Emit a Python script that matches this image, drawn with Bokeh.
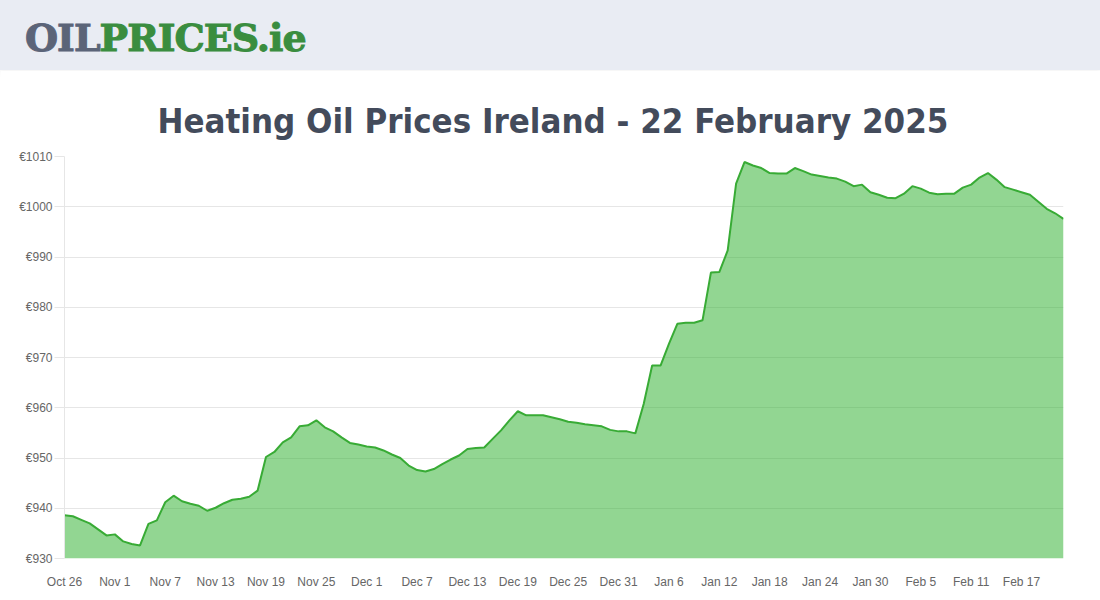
import pandas as pd
from bokeh.plotting import figure
from bokeh.layouts import column
from bokeh.models import Div, Range1d, FixedTicker
from bokeh.embed import file_html
from bokeh.resources import INLINE

# ---- data ----
start_date = "2024-10-26"
prices = [
    938.6, 938.4, 937.7, 937.0, 935.8, 934.6, 934.8, 933.4, 932.9, 932.6,
    936.9, 937.6, 941.2, 942.5, 941.4, 940.9, 940.5, 939.5, 940.1, 941.0,
    941.7, 941.9, 942.3, 943.5, 950.2, 951.2, 953.1, 954.1, 956.3, 956.5,
    957.5, 956.1, 955.3, 954.1, 953.0, 952.7, 952.3, 952.1, 951.5, 950.7,
    950.0, 948.5, 947.6, 947.3, 947.8, 948.8, 949.7, 950.5, 951.8, 952.0,
    952.1, 953.8, 955.5, 957.5, 959.3, 958.5, 958.5, 958.5, 958.1, 957.7,
    957.2, 957.0, 956.7, 956.5, 956.3, 955.6, 955.3, 955.3, 954.9, 960.8,
    968.4, 968.4, 972.7, 976.7, 976.9, 976.9, 977.4, 986.9, 987.0, 991.3,
    1004.6, 1008.9, 1008.2, 1007.7, 1006.7, 1006.6, 1006.6, 1007.7, 1007.1, 1006.4,
    1006.1, 1005.8, 1005.6, 1005.0, 1004.1, 1004.4, 1002.9, 1002.4, 1001.8, 1001.7,
    1002.6, 1004.1, 1003.6, 1002.8, 1002.5, 1002.6, 1002.6, 1003.8, 1004.4, 1005.8,
    1006.7, 1005.4, 1003.9, 1003.4, 1002.9, 1002.4, 1001.0, 999.6, 998.7, 997.6,
]
x_tick_dates = ["2024-10-26", "2024-11-01", "2024-11-07", "2024-11-13", "2024-11-19",
                "2024-11-25", "2024-12-01", "2024-12-07", "2024-12-13", "2024-12-19",
                "2024-12-25", "2024-12-31", "2025-01-06", "2025-01-12", "2025-01-18",
                "2025-01-24", "2025-01-30", "2025-02-05", "2025-02-11", "2025-02-17"]
x_tick_labels = ["Oct 26", "Nov 1", "Nov 7", "Nov 13", "Nov 19", "Nov 25", "Dec 1",
                 "Dec 7", "Dec 13", "Dec 19", "Dec 25", "Dec 31", "Jan 6", "Jan 12",
                 "Jan 18", "Jan 24", "Jan 30", "Feb 5", "Feb 11", "Feb 17"]
y_ticks = [930, 940, 950, 960, 970, 980, 990, 1000, 1010]
y_tick_labels = ["€930", "€940", "€950", "€960", "€970", "€980", "€990", "€1000", "€1010"]
title_text = "Heating Oil Prices Ireland - 22 February 2025"

dates = pd.date_range(start_date, periods=len(prices), freq="D")
tick_ms = [pd.Timestamp(d).value / 1e6 for d in x_tick_dates]

# ---- header ----
header = Div(
    text='<div style="position:absolute;left:25px;top:11px;font-family:\'DejaVu Serif\';'
         'font-weight:900;font-size:38px;letter-spacing:-1px;white-space:nowrap;'
         '-webkit-text-stroke:1px;">'
         '<span style="color:#5b6478">OIL</span><span style="color:#3a8d3f">PRICES.ie</span></div>',
    width=1100, height=70, margin=0,
    styles={"background-color": "#e9ecf3", "box-shadow": "0 3px 6px rgba(0,0,0,0.06)"},
)

# ---- chart ----
p = figure(width=1100, height=530, x_axis_type="datetime", output_backend="svg",
           toolbar_location=None, min_border_left=64, min_border_right=37,
           min_border_top=86, min_border_bottom=42, margin=0)
p.x_range = Range1d(dates[0], dates[-1])
p.y_range = Range1d(930, 1010)

p.varea(x=dates, y1=930, y2=prices, fill_color="#25ad25", fill_alpha=0.5)
p.line(x=dates, y=prices, line_color="#38ab35", line_width=2)

p.title.text = title_text
p.title.align = "left"
p.title.offset = 93
p.title.standoff = 31
p.title.text_font = "DejaVu Sans Condensed, Roboto"
p.title.text_font_size = "34.5px"
p.title.text_font_style = "bold"
p.title.text_color = "#434b5b"

p.outline_line_color = None
p.xgrid.grid_line_color = None
p.ygrid.grid_line_color = "#e6e6e6"
p.ygrid.ticker = FixedTicker(ticks=y_ticks)

p.xaxis.ticker = FixedTicker(ticks=tick_ms)
p.xaxis.major_label_overrides = {t: l for t, l in zip(tick_ms, x_tick_labels)}
p.xaxis.axis_line_color = None
p.xaxis.major_tick_line_color = None
p.xaxis.minor_tick_line_color = None
p.xaxis.major_label_standoff = 10
p.xaxis.major_label_text_font = "Liberation Sans"
p.xaxis.major_label_text_font_size = "12px"
p.xaxis.major_label_text_color = "#666666"

p.yaxis.ticker = FixedTicker(ticks=y_ticks)
p.yaxis.major_label_overrides = {t: l for t, l in zip(y_ticks, y_tick_labels)}
p.yaxis.axis_line_color = "#e6e6e6"
p.yaxis.major_tick_line_color = "#e6e6e6"
p.yaxis.major_tick_out = 10
p.yaxis.major_tick_in = 0
p.yaxis.minor_tick_line_color = None
p.yaxis.major_label_standoff = 2
p.yaxis.major_label_text_font = "Liberation Sans"
p.yaxis.major_label_text_font_size = "12px"
p.yaxis.major_label_text_color = "#666666"

layout = column(header, p, spacing=0, margin=0)
open("out.html", "w").write(file_html(layout, INLINE))
